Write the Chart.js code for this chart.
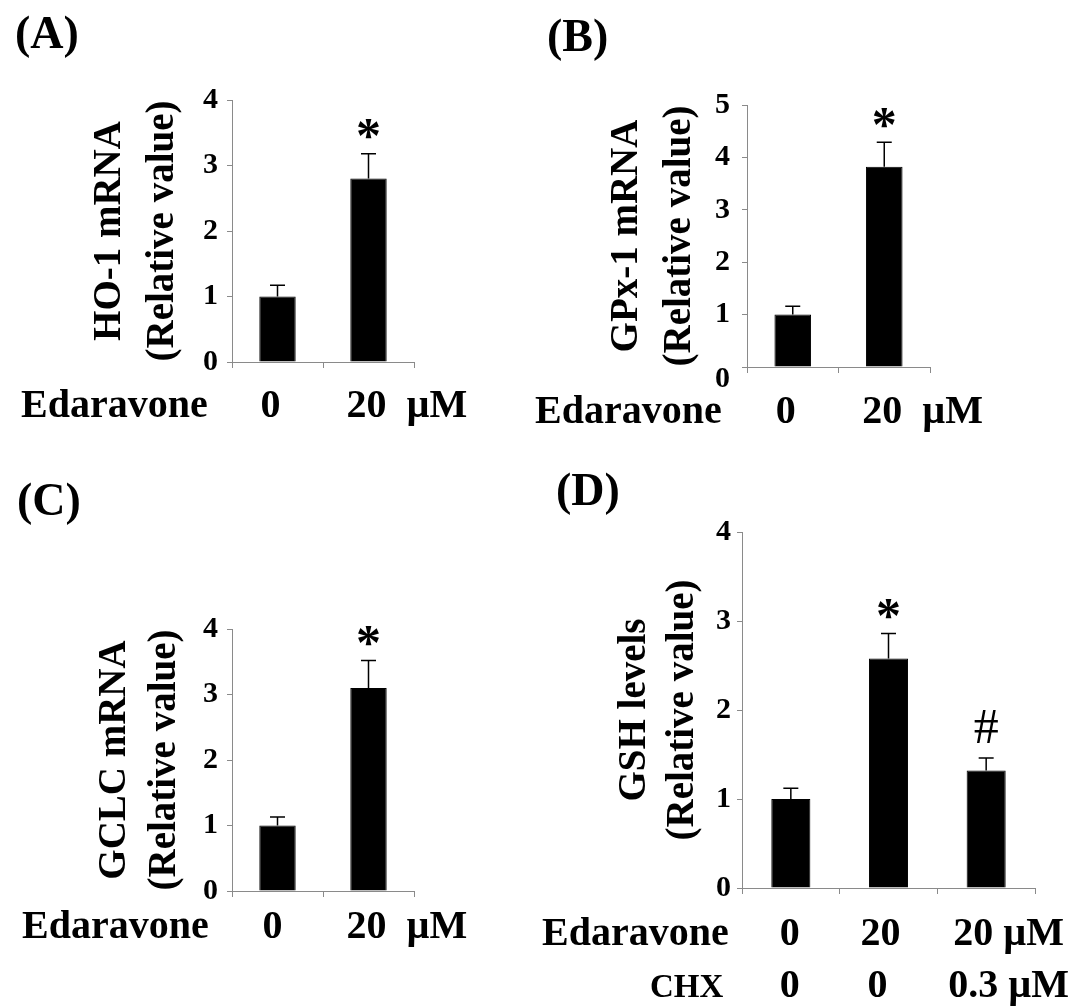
<!DOCTYPE html>
<html>
<head>
<meta charset="utf-8">
<script src="https://cdn.jsdelivr.net/npm/chart.js@4/dist/chart.umd.min.js"></script>
<style>
  html, body { margin: 0; padding: 0; background: #fff; }
  #wrap { position: relative; width: 1086px; height: 1006px; overflow: hidden; }
  canvas { position: absolute; left: 0; top: 0; }
</style>
</head>
<body>
<div id="wrap">
  <canvas id="cA" width="1086" height="1006"></canvas>
  <canvas id="cB" width="1086" height="1006"></canvas>
  <canvas id="cC" width="1086" height="1006"></canvas>
  <canvas id="cD" width="1086" height="1006"></canvas>
</div>
<script>
// ---------------- DATA ----------------
// Panel A: HO-1 mRNA
const edaravoneA = ['0', '20'];
const valuesA = [1.0, 2.8];
const errorsA = [0.17, 0.38];
const marksA = ['', '*'];
const yTicksA = ['0', '1', '2', '3', '4'];

// Panel B: GPx-1 mRNA
const edaravoneB = ['0', '20'];
const valuesB = [1.0, 3.82];
const errorsB = [0.16, 0.47];
const marksB = ['', '*'];
const yTicksB = ['0', '1', '2', '3', '4', '5'];

// Panel C: GCLC mRNA
const edaravoneC = ['0', '20'];
const valuesC = [1.0, 3.1];
const errorsC = [0.13, 0.42];
const marksC = ['', '*'];
const yTicksC = ['0', '1', '2', '3', '4'];

// Panel D: GSH levels
const edaravoneD = ['0', '20', '20'];
const chxD = ['0', '0', '0.3'];
const valuesD = [1.0, 2.58, 1.32];
const errorsD = [0.12, 0.28, 0.14];
const marksD = ['', '*', '#'];
const yTicksD = ['0', '1', '2', '3', '4'];

// ---------------- LAYOUT / STYLE ----------------
const SERIF = "'Liberation Serif', 'Times New Roman', Times, serif";
const AXIS = '#8a8a8a';
const W = 1086, H = 1006;

const panels = [
  {
    id: 'cA', letter: '(A)', labelPos: [15, 48],
    title: ['HO-1 mRNA', '(Relative value)'], titleOff: -122, titleLH: 53,
    area: {l: 232, t: 100, r: 414, b: 362}, yMax: 4, tickPad: 9, zeroShift: false,
    yTicks: yTicksA, values: valuesA, errors: errorsA, marks: marksA,
    labels: edaravoneA,
    rows: [{title: 'Edaravone', titleSize: 40, x: 21, y: 417, vals: edaravoneA, dx: [-7, -2], unit: 'µM', gap: '  '}]
  },
  {
    id: 'cB', letter: '(B)', labelPos: [547, 51],
    title: ['GPx-1 mRNA', '(Relative value)'], titleOff: -120, titleLH: 53,
    area: {l: 747, t: 105, r: 930, b: 367}, yMax: 5, tickPad: 12, zeroShift: true,
    yTicks: yTicksB, values: valuesB, errors: errorsB, marks: marksB,
    labels: edaravoneB,
    rows: [{title: 'Edaravone', titleSize: 40, x: 535, y: 423, vals: edaravoneB, dx: [-7, -2], unit: 'µM', gap: '  '}]
  },
  {
    id: 'cC', letter: '(C)', labelPos: [17, 515],
    title: ['GCLC mRNA', '(Relative value)'], titleOff: -117, titleLH: 50,
    area: {l: 232, t: 629, r: 414, b: 891}, yMax: 4, tickPad: 9, zeroShift: false,
    yTicks: yTicksC, values: valuesC, errors: errorsC, marks: marksC,
    labels: edaravoneC,
    rows: [{title: 'Edaravone', titleSize: 40, x: 22, y: 938, vals: edaravoneC, dx: [-5, -2], unit: 'µM', gap: '  '}]
  },
  {
    id: 'cD', letter: '(D)', labelPos: [556, 505],
    title: ['GSH levels', '(Relative value)'], titleOff: -107, titleLH: 48,
    area: {l: 742, t: 532, r: 1035, b: 888}, yMax: 4, tickPad: 6, zeroShift: false,
    yTicks: yTicksD, values: valuesD, errors: errorsD, marks: marksD,
    labels: edaravoneD.map((e, i) => e + ' / ' + chxD[i]),
    rows: [
      {title: 'Edaravone', titleSize: 40, x: 542, y: 945, vals: edaravoneD, dx: [-1, -8, -13], unit: 'µM', gap: ' '},
      {title: 'CHX', titleSize: 33, x: 650, y: 997, vals: chxD, dx: [-1, -11, -13], unit: 'µM', gap: ' '}
    ]
  }
];

const Y_W = 160;   // fixed width of the y scale box
const X_H = 10;    // fixed height of the x scale box

function makeOverlay(p) {
  return {
    id: 'overlay_' + p.id,
    afterDatasetsDraw(chart) {
      const ctx = chart.ctx;
      const ys = chart.scales.y;
      const meta = chart.getDatasetMeta(0);
      ctx.save();
      meta.data.forEach((bar, i) => {
        const v = p.values[i], e = p.errors[i];
        const yTop = ys.getPixelForValue(v + e);
        const yBar = ys.getPixelForValue(v);
        ctx.strokeStyle = '#000';
        ctx.lineWidth = 1.5;
        ctx.beginPath();
        ctx.moveTo(bar.x, yBar);
        ctx.lineTo(bar.x, yTop);
        ctx.moveTo(bar.x - 7.5, yTop);
        ctx.lineTo(bar.x + 7.5, yTop);
        ctx.stroke();
        const m = p.marks[i];
        if (m) {
          ctx.fillStyle = '#000';
          ctx.textAlign = 'center';
          ctx.textBaseline = 'alphabetic';
          if (m === '*') {
            ctx.font = 'bold 50px ' + SERIF;
            ctx.fillText(m, bar.x, yTop - 1.5);
          } else {
            ctx.font = '50px ' + SERIF;
            ctx.fillText(m, bar.x, yTop - 15);
          }
        }
      });
      ctx.restore();
    },
    afterDraw(chart) {
      const ctx = chart.ctx;
      const xs = chart.scales.x;
      ctx.save();
      ctx.fillStyle = '#000';
      ctx.textBaseline = 'alphabetic';
      // panel letter
      ctx.font = 'bold 46px ' + SERIF;
      ctx.textAlign = 'left';
      ctx.fillText(p.letter, p.labelPos[0], p.labelPos[1]);
      // category rows
      p.rows.forEach(row => {
        ctx.font = 'bold ' + row.titleSize + 'px ' + SERIF;
        ctx.textAlign = 'left';
        ctx.fillText(row.title, row.x, row.y);
        ctx.font = 'bold 40px ' + SERIF;
        row.vals.forEach((val, i) => {
          const cx = xs.getPixelForValue(i) + row.dx[i];
          ctx.textAlign = 'center';
          ctx.fillText(val, cx, row.y);
          if (i === row.vals.length - 1 && row.unit) {
            const w = ctx.measureText(val).width;
            ctx.textAlign = 'left';
            ctx.fillText(row.gap + row.unit, cx + w / 2, row.y);
          }
        });
      });
      ctx.restore();
    }
  };
}

panels.forEach(p => {
  const a = p.area;
  new Chart(document.getElementById(p.id), {
    type: 'bar',
    data: {
      labels: p.labels,
      datasets: [{
        data: p.values,
        backgroundColor: '#000',
        borderColor: '#000',
        borderWidth: 1,
        categoryPercentage: 1.0,
        barPercentage: 0.4
      }]
    },
    options: {
      responsive: false,
      animation: false,
      devicePixelRatio: 1,
      layout: {
        padding: {
          left: a.l - Y_W,
          top: a.t,
          right: W - a.r,
          bottom: H - a.b - X_H
        }
      },
      plugins: {
        legend: {display: false},
        tooltip: {enabled: false},
        title: {display: false}
      },
      scales: {
        x: {
          type: 'category',
          afterFit: s => { s.height = X_H; },
          grid: {display: true, drawOnChartArea: false, drawTicks: true, tickLength: 6,
                 color: AXIS, lineWidth: 1, offset: true},
          border: {display: true, color: AXIS, width: 1},
          ticks: {display: false}
        },
        y: {
          min: 0, max: p.yMax,
          afterFit: s => { s.width = Y_W; },
          afterBuildTicks: s => { s.ticks = p.yTicks.map((t, i) => ({value: i})); },
          grid: {display: true, drawOnChartArea: false, drawTicks: true, tickLength: 5,
                 color: AXIS, lineWidth: 1},
          border: {display: true, color: AXIS, width: 1},
          ticks: {
            stepSize: 1,
            padding: p.tickPad,
            color: '#000',
            font: {family: SERIF, size: 30, weight: 'bold', lineHeight: '24px'},
            callback: (value, index) => {
              const lbl = p.yTicks[index];
              return (p.zeroShift && index === 0) ? ['', lbl] : lbl;
            }
          },
          title: {
            display: true,
            text: p.title,
            color: '#000',
            align: 'center',
            font: {family: SERIF, size: 39, weight: 'bold', lineHeight: p.titleLH + 'px'},
            padding: {top: Y_W + p.titleOff - p.titleLH / 2, bottom: 0}
          }
        }
      }
    },
    plugins: [makeOverlay(p)]
  });
});
</script>
</body>
</html>
